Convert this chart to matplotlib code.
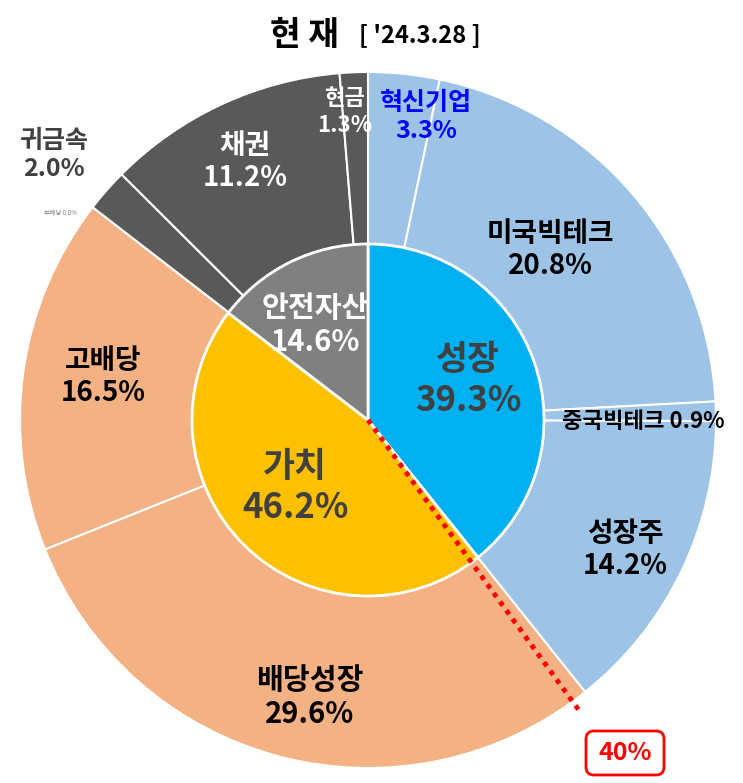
import matplotlib
matplotlib.use("Agg")
import matplotlib.pyplot as plt
from matplotlib.patches import FancyBboxPatch
import numpy as np

plt.rcParams['font.family'] = ['Noto Sans CJK KR', 'DejaVu Sans']

# ---- data ----
inner_labels = ['성장', '가치', '안전자산']
inner_values = [39.3, 46.2, 14.6]
outer_labels = ['혁신기업', '미국빅테크', '중국빅테크', '성장주', '배당성장', '고배당',
                '부배당', '귀금속', '채권', '현금']
outer_values = [3.3, 20.8, 0.9, 14.2, 29.6, 16.5, 0.0, 2.0, 11.2, 1.3]
marker_pct = 40
title_main = '현 재'
title_date = "[ '24.3.28 ]"

# ---- style / layout ----
W, H = 743, 783
cx, cy_px = 368, 420
cy = H - cy_px
R_out, R_in = 348, 176
inner_colors = ['#00B0F0', '#FFC000', '#808080']
outer_colors = ['#9DC3E6'] * 4 + ['#F4B183'] * 3 + ['#595959'] * 3

fig = plt.figure(figsize=(W / 100, H / 100), dpi=100)
ax = fig.add_axes([0, 0, 1, 1])
ax.set_xlim(0, W)
ax.set_ylim(0, H)
ax.set_aspect('equal')
ax.axis('off')

ax.pie(outer_values, radius=R_out, center=(cx, cy), startangle=90, counterclock=False,
       colors=outer_colors, wedgeprops=dict(width=R_out - R_in, edgecolor='white', linewidth=1.5))
ax.pie(inner_values, radius=R_in, center=(cx, cy), startangle=90, counterclock=False,
       colors=inner_colors, wedgeprops=dict(edgecolor='white', linewidth=2))
ax.set_xlim(0, W)
ax.set_ylim(0, H)

def T(x, y, s, size, color='black', weight='bold', **kw):
    ax.text(x, H - y, s, fontsize=size, color=color, fontweight=weight,
            ha='center', va='center', linespacing=1.2, **kw)

vals = dict(zip(outer_labels, outer_values))
ivals = dict(zip(inner_labels, inner_values))

# outer labels (pixel positions)
outer_pos = {
    '혁신기업': (426, 117, 18, '#0000FF'),
    '미국빅테크': (550, 250, 20, 'black'),
    '성장주': (625, 550, 20, 'black'),
    '배당성장': (310, 697, 21, 'black'),
    '고배당': (103, 377, 20, 'black'),
    '채권': (245, 162, 20, 'white'),
    '현금': (345, 112, 16, 'white'),
    '귀금속': (54, 155, 18, '#404040'),
}
for k, (x, y, s, c) in outer_pos.items():
    T(x, y, f'{k}\n{vals[k]:.1f}%', s, c)
T(643, 421, f'중국빅테크 {vals["중국빅테크"]:.1f}%', 16)
T(60, 213, f'부배당 {vals["부배당"]:.1f}%', 4.5, '#7F7F7F', weight='normal')

inner_pos = {
    '성장': (468, 380, 25, '#404040'),
    '가치': (295, 487, 25, '#404040'),
    '안전자산': (315, 325, 21, 'white'),
}
for k, (x, y, s, c) in inner_pos.items():
    T(x, y, f'{k}\n{ivals[k]:.1f}%', s, c)

# marker line at 40%
ang = np.deg2rad(90 - 360 * marker_pct / 100)
r_end = 362
ax.plot([cx, cx + r_end * np.cos(ang)], [cy, cy + r_end * np.sin(ang)],
        color='#FF0000', linestyle=(0, (1, 1.2)), linewidth=3.5, solid_capstyle='butt')
box = FancyBboxPatch((586, H - 775), 78, 44, boxstyle='round,pad=0,rounding_size=8',
                     facecolor='white', edgecolor='#FF0000', linewidth=2)
ax.add_patch(box)
T(625, 753, f'{marker_pct}%', 18, '#FF0000')

# title
ax.text(304, H - 35, title_main, fontsize=24, fontweight='bold', ha='center', va='center')
ax.text(420, H - 35, title_date, fontsize=17, fontweight='bold', ha='center', va='center')

fig.savefig('out.png', dpi=100)
